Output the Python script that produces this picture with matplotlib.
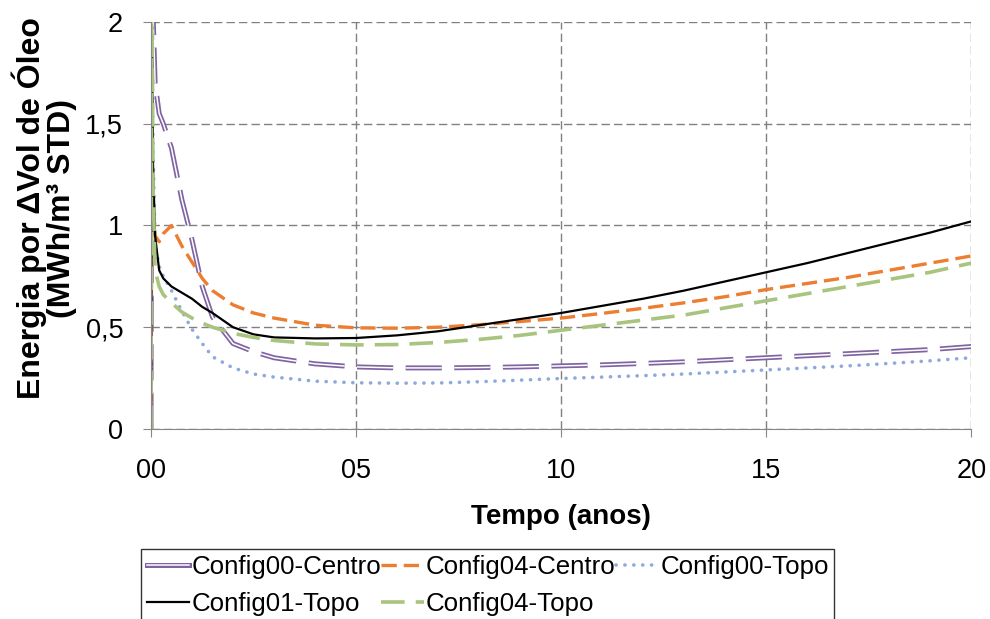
import numpy as np
import matplotlib
matplotlib.use('Agg')
import matplotlib.pyplot as plt
from matplotlib.lines import Line2D
from matplotlib.legend_handler import HandlerTuple

plt.rcParams['font.family'] = ['Liberation Sans', 'DejaVu Sans']
plt.rcParams['lines.scale_dashes'] = False

# tempo (anos)
t = [0, 0.02, 0.05, 0.1, 0.2, 0.3, 0.5, 0.75, 1.0, 1.25, 1.5, 2.0, 2.5, 3.0, 4.0, 5.0,
     6.0, 7.0, 8.0, 9.0, 10, 11, 12, 13, 14, 15, 16, 17, 18, 19, 20]

config00_centro = [0, 2.3, 2.05, 1.70, 1.55, 1.50, 1.38, 1.13, 0.93, 0.70, 0.55, 0.42, 0.38, 0.35,
                   0.32, 0.305, 0.30, 0.30, 0.302, 0.305, 0.31, 0.315, 0.322, 0.33, 0.34, 0.35,
                   0.36, 0.37, 0.38, 0.39, 0.405]
config04_centro = [0, 1.2, 1.05, 0.95, 0.92, 0.96, 1.0, 0.90, 0.82, 0.74, 0.68, 0.61, 0.57, 0.545,
                   0.51, 0.497, 0.495, 0.50, 0.512, 0.528, 0.545, 0.568, 0.593, 0.62, 0.65, 0.685,
                   0.715, 0.745, 0.78, 0.815, 0.85]
config00_topo = [0, 2.1, 1.4, 0.91, 0.80, 0.75, 0.68, 0.58, 0.49, 0.42, 0.355, 0.30, 0.27, 0.255,
                 0.235, 0.227, 0.225, 0.226, 0.232, 0.24, 0.248, 0.255, 0.262, 0.27, 0.28, 0.29,
                 0.30, 0.31, 0.322, 0.335, 0.35]
config01_topo = [0, 1.95, 1.3, 0.95, 0.78, 0.74, 0.70, 0.67, 0.64, 0.60, 0.57, 0.50, 0.465, 0.45,
                 0.445, 0.447, 0.46, 0.48, 0.51, 0.54, 0.57, 0.605, 0.64, 0.68, 0.725, 0.77,
                 0.815, 0.865, 0.915, 0.965, 1.02]
config04_topo = [0, 2.2, 1.2, 0.78, 0.70, 0.66, 0.62, 0.575, 0.545, 0.52, 0.50, 0.47, 0.45, 0.435,
                 0.418, 0.413, 0.415, 0.425, 0.44, 0.46, 0.485, 0.51, 0.535, 0.56, 0.595, 0.63,
                 0.665, 0.70, 0.735, 0.77, 0.815]

xticks = [0, 5, 10, 15, 20]
xtick_labels = ['00', '05', '10', '15', '20']
yticks = [0, 0.5, 1, 1.5, 2]
ytick_labels = ['0', '0,5', '1', '1,5', '2']

fig = plt.figure(figsize=(9.9, 6.19), dpi=100)
ax = fig.add_axes([0.1525, 0.307, 0.8285, 0.6575])

# Config00-Centro: linha dupla tracejada
ax.plot(t, config00_centro, color='#8064A2', lw=3.6, dashes=(26, 9))
ax.plot(t, config00_centro, color='white', lw=1.1, dashes=(26, 9))
p2 = ax.plot(t, config04_centro, color='#ED7D31', lw=2.4, dashes=(11, 5))[0]
p3 = ax.plot(t, config00_topo, color='#8EA9DB', lw=2.6, dashes=(0.1, 6.3),
             dash_capstyle='round')[0]
p4 = ax.plot(t, config01_topo, color='black', lw=1.6)[0]
p5 = ax.plot(t, config04_topo, color='#A9C47F', lw=2.6, dashes=(17, 8))[0]

ax.set_xlim(0, 20)
ax.set_ylim(0, 2)
ax.set_xticks(xticks)
ax.set_xticklabels(xtick_labels)
ax.set_yticks(yticks)
ax.set_yticklabels(ytick_labels)

ax.grid(True, color='#808080', lw=1, dashes=(6, 3))
ax.set_axisbelow(True)
for s in ['top', 'right']:
    ax.spines[s].set_visible(False)
for s in ['left', 'bottom']:
    ax.spines[s].set_color('#868686')
ax.tick_params(axis='both', colors='#868686', length=6, labelsize=19.5, labelcolor='black')
ax.tick_params(axis='x', pad=15)
ax.tick_params(axis='y', pad=14)

ax.set_xlabel('Tempo (anos)', fontsize=20, fontweight='bold', labelpad=14)
fig.text(44 / 990, 1 - 208 / 619, 'Energia por ΔVol de Óleo\n(MWh/m³ STD)', fontsize=23,
         fontweight='bold', rotation=90, ha='center', va='center', linespacing=1.0)

# legenda: linha dupla sólida para Config00-Centro
h1 = (Line2D([], [], color='#8064A2', lw=3.6), Line2D([], [], color='white', lw=1.1))
handles = [h1, p4, p2, p5, p3]
labels = ['Config00-Centro', 'Config01-Topo', 'Config04-Centro', 'Config04-Topo', 'Config00-Topo']
leg = fig.legend(handles, labels, ncol=3, loc='upper left',
                 bbox_to_anchor=(141 / 990, 1 - 549 / 619), borderaxespad=0,
                 fontsize=18.6, handlelength=1.65, handletextpad=0.08, columnspacing=0.0,
                 frameon=True, fancybox=False, edgecolor='black', borderpad=0.22,
                 labelspacing=0.5, handler_map={tuple: HandlerTuple(ndivide=1)})
leg.get_frame().set_linewidth(1.0)

fig.savefig('out.png', dpi=100)
